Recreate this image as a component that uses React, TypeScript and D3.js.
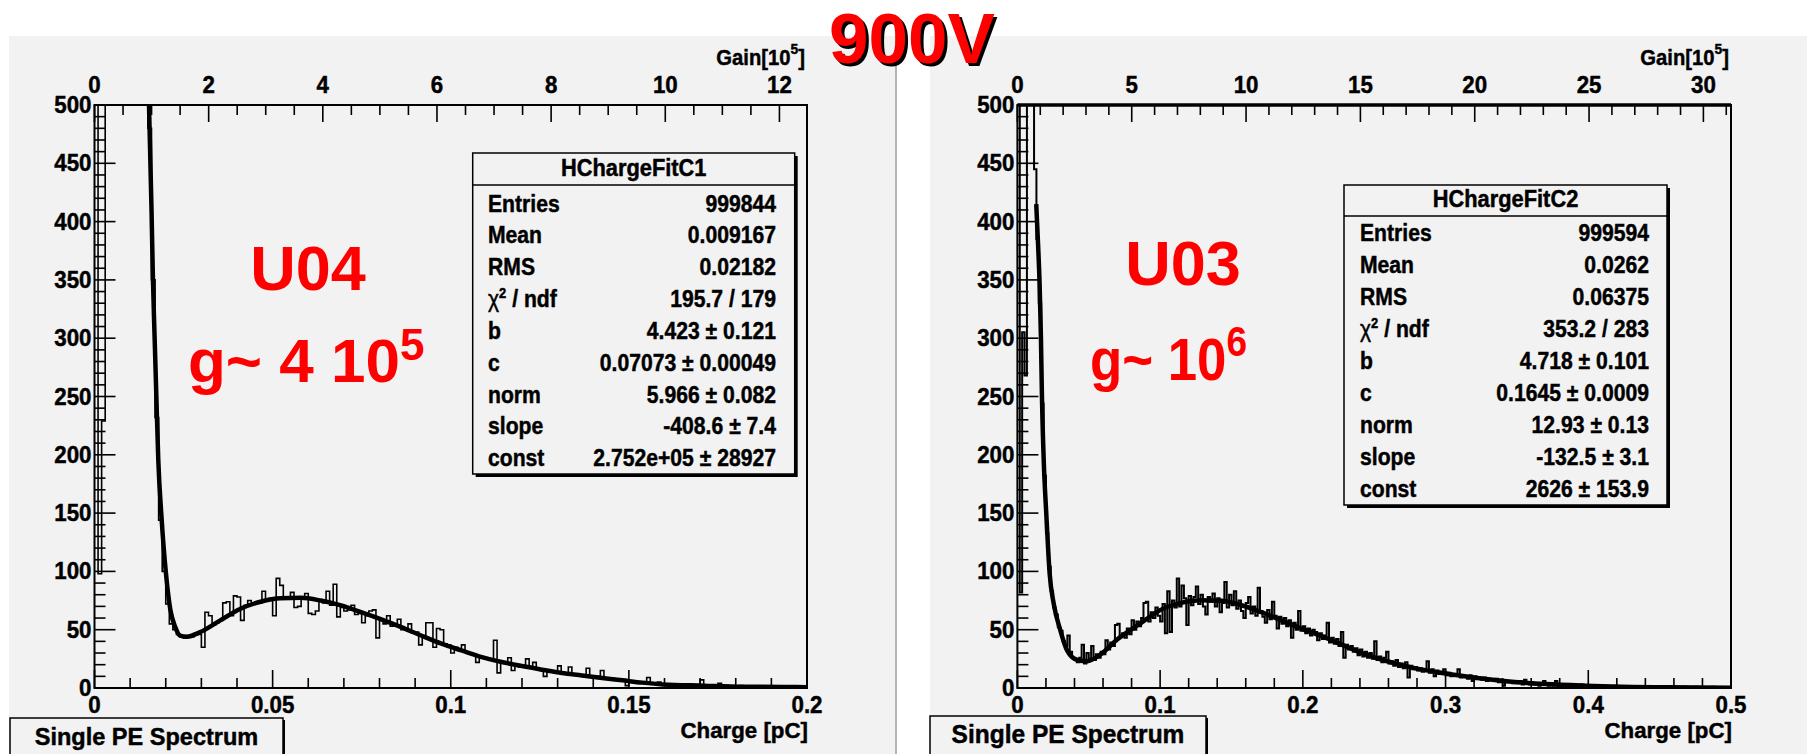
import * as d3 from 'd3';

const W = 1807;
const H = 754;
const FONT = "'Liberation Sans', Arial, Helvetica, sans-serif";
const BG = '#f2f2f2';

// gain axis is charge / e, in units of 1e5 (per pC)
const GAIN_PER_PC = 62.415;

const countTicks = [0, 50, 100, 150, 200, 250, 300, 350, 400, 450, 500];
const leftChargeTicks = [0, 0.05, 0.1, 0.15, 0.2];
const rightChargeTicks = [0, 0.1, 0.2, 0.3, 0.4, 0.5];
const leftGainTicks = [0, 2, 4, 6, 8, 10, 12];
const rightGainTicks = [0, 5, 10, 15, 20, 25, 30];

// U04: 200 bins of 0.001 pC
const leftCounts = [
  5200, 98, 229, 30000, 21000, 14500, 10000, 7000, 4900, 3400,
  2400, 1700, 1200, 880, 650, 480, 350, 232, 144, 100,
  72, 55, 50, 46, 44, 43, 45, 44, 47, 46,
  35, 65, 62, 54, 56, 58, 73, 74, 62, 79,
  78, 58, 71, 75, 72, 74, 73, 83, 76, 77,
  62, 94, 88, 78, 77, 82, 69, 70, 77, 81,
  64, 63, 66, 75, 73, 83, 71, 89, 61, 69,
  66, 67, 71, 63, 64, 56, 62, 66, 67, 43,
  58, 55, 62, 53, 54, 59, 50, 51, 55, 47,
  48, 37, 45, 56, 56, 35, 51, 50, 38, 37,
  30, 35, 33, 37, 31, 30, 29, 22, 27, 26,
  26, 24, 41, 13, 22, 21, 26, 15, 19, 18,
  19, 25, 17, 22, 16, 15, 10, 15, 14, 13,
  19, 12, 13, 18, 12, 11, 11, 10, 17, 10,
  9, 10, 15, 8, 8, 8, 7, 7, 7, 2,
  6, 6, 5, 5, 4, 9, 4, 4, 5, 3,
  3, 3, 2, 3, 2, 3, 2, 2, 2, 2,
  7, 2, 1, 2, 1, 4, 1, 2, 1, 1,
  1, 2, 1, 1, 1, 1, 0, 1, 1, 1,
  1, 0, 1, 1, 0, 0, 0, 0, 1, 1,
];

// U03: 300 bins of 0.5/300 pC
const rightCounts = [
  5200, 82, 305, 268, 1900, 1200, 760, 445, 385, 330,
  244, 182, 133, 104, 83, 69, 63, 52, 49, 40,
  36, 45, 31, 26, 25, 22, 26, 37, 21, 30,
  25, 36, 24, 29, 26, 31, 29, 41, 33, 39,
  36, 54, 55, 44, 47, 43, 51, 46, 58, 50,
  57, 53, 60, 73, 74, 57, 65, 60, 69, 62,
  57, 72, 47, 83, 48, 75, 69, 94, 70, 88,
  77, 54, 79, 71, 78, 87, 72, 80, 70, 63,
  78, 74, 81, 70, 77, 65, 73, 91, 69, 80,
  71, 83, 68, 75, 66, 60, 73, 78, 64, 70,
  62, 86, 66, 61, 56, 67, 59, 74, 62, 51,
  61, 55, 60, 53, 58, 43, 56, 50, 66, 49,
  53, 47, 51, 45, 50, 48, 41, 47, 42, 45,
  56, 39, 43, 38, 42, 36, 48, 26, 37, 33,
  36, 31, 34, 28, 33, 27, 31, 26, 30, 25,
  40, 24, 27, 22, 26, 31, 21, 23, 19, 24,
  18, 21, 17, 22, 9, 19, 16, 18, 15, 17,
  14, 16, 23, 13, 16, 10, 15, 12, 14, 16,
  11, 13, 10, 12, 11, 16, 9, 11, 10, 8,
  11, 6, 10, 8, 9, 7, 9, 6, 8, 7,
  6, 8, 5, 7, 2, 6, 5, 6, 4, 5,
  4, 6, 3, 7, 4, 3, 5, 3, 4, 2,
  4, 6, 3, 2, 3, 2, 6, 1, 3, 2,
  1, 3, 2, 1, 2, 2, 1, 3, 1, 2,
  1, 0, 2, 1, 1, 2, 0, 1, 1, 0,
  1, 2, 0, 1, 1, 0, 1, 0, 1, 1,
  0, 1, 0, 1, 0, 1, 0, 1, 0, 0,
  1, 0, 0, 1, 0, 0, 1, 0, 0, 0,
  1, 0, 0, 0, 0, 1, 0, 0, 0, 0,
  0, 0, 1, 0, 0, 0, 0, 0, 0, 0,
];

// fitted curves (charge in pC, counts)
const leftFitQ = [0.0149, 0.0153, 0.016, 0.0164, 0.0169, 0.0174, 0.0179, 0.0188, 0.0201, 0.0213, 0.0227, 0.024, 0.026, 0.0297, 0.0353, 0.041, 0.0466, 0.0522, 0.0579, 0.0635, 0.0692, 0.0748, 0.0805, 0.0861, 0.0917, 0.0974, 0.103, 0.1087, 0.1143, 0.12, 0.1256, 0.1312, 0.1369, 0.1425, 0.1482, 0.1538, 0.1595, 0.171, 0.182, 0.1934, 0.2];
const leftFitV = [540, 500, 411, 351, 298, 246, 196, 147, 97, 67, 52, 45, 44, 48, 58, 68, 74, 77, 77.3, 75, 70.8, 65, 58.8, 52.2, 45, 38, 32.2, 26.5, 22.3, 18.8, 15.7, 12.8, 10.8, 8.6, 6.6, 4.6, 3.1, 2, 1.1, 0.9, 0.7];
const rightFitQ = [0.0132, 0.0145, 0.0156, 0.0165, 0.0172, 0.0184, 0.0203, 0.0226, 0.0255, 0.0302, 0.0349, 0.042, 0.049, 0.0585, 0.0703, 0.082, 0.0915, 0.1, 0.1146, 0.1288, 0.143, 0.157, 0.171, 0.185, 0.199, 0.214, 0.228, 0.242, 0.256, 0.279, 0.299, 0.319, 0.341, 0.37, 0.398, 0.455, 0.5];
const rightFitV = [415, 380, 345, 300, 250, 197, 148, 98, 72, 49, 32, 24, 23, 29, 42, 52, 60, 66.8, 73, 75.3, 74.8, 71, 65, 58, 51, 44, 36.8, 29.7, 24, 16.8, 12.6, 9, 6, 3.4, 2, 0.6, 0.3];

const statNames = ['Entries', 'Mean', 'RMS', 'chi2', 'b', 'c', 'norm', 'slope', 'const'];
const leftStatValues = ['999844', '0.009167', '0.02182', '195.7 / 179', '4.423 ± 0.121', '0.07073 ± 0.00049', '5.966 ± 0.082', '-408.6 ± 7.4', '2.752e+05 ± 28927'];
const rightStatValues = ['999594', '0.0262', '0.06375', '353.2 / 283', '4.718 ± 0.101', '0.1645 ± 0.0009', '12.93 ± 0.13', '-132.5 ± 3.1', '2626 ± 153.9'];

// ROOT-ish heavy text: bold plus a hairline stroke
function Txt({ x, y, size, anchor = 'start', sx = 0.95, fill = '#000', weight = 700, heavy = 0.45, children }: any) {
  return (
    <text
      transform={`translate(${x},${y}) scale(${sx},1)`}
      fontSize={size}
      textAnchor={anchor}
      fontWeight={weight}
      fill={fill}
      stroke={heavy ? fill : 'none'}
      strokeWidth={heavy}
      fontFamily={FONT}
    >
      {children}
    </text>
  );
}

function Panel(p: any) {
  const { frame: f } = p;
  const x = d3.scaleLinear().domain([0, p.qMax]).range([f.l, f.r]);
  const g = d3.scaleLinear().domain([0, p.qMax * GAIN_PER_PC]).range([f.l, f.r]);
  const y = d3.scaleLinear().domain([0, 500]).range([f.b, f.t]);

  const histPts: [number, number][] = [];
  p.counts.forEach((v: number, i: number) => {
    const yv = y(Math.min(v, 520));
    histPts.push([x(i * p.binW), yv], [x((i + 1) * p.binW), yv]);
  });
  const histPath = d3.line()(histPts) || '';

  const fitPath = d3.line<number>()
    .x((_, i) => x(p.fitQ[i]))
    .y((v) => y(v))
    .curve(d3.curveMonotoneX)(p.fitV) || '';

  const yMinor = d3.range(0, 51).map((i) => i * 10);
  const qMinor = d3.range(0, p.qMinorN + 1).map((i) => (i * p.qMax) / p.qMinorN);
  const gMax = p.qMax * GAIN_PER_PC;
  const gMinor = d3.range(0, Math.floor(gMax / p.gMinorStep) + 1).map((i) => i * p.gMinorStep);

  const box = p.box;
  const clipId = `clip-${p.id}`;

  return (
    <g>
      <rect x={p.canvasX0} y={36} width={p.canvasX1 - p.canvasX0} height={H - 36} fill={BG} />
      <defs>
        <clipPath id={clipId}>
          <rect x={f.l} y={f.t} width={f.r - f.l} height={f.b - f.t} />
        </clipPath>
      </defs>

      {/* ticks */}
      <g stroke="#000" strokeWidth={1.6}>
        {yMinor.map((v) => (
          <line key={'y' + v} x1={f.l} x2={f.l + (v % 50 === 0 ? 21 : 11)} y1={y(v)} y2={y(v)} />
        ))}
        {qMinor.map((v, i) => (
          <line key={'q' + i} x1={x(v)} x2={x(v)} y1={f.b} y2={f.b - (i % 5 === 0 ? 18 : 10)} />
        ))}
        {gMinor.map((v, i) => (
          <line key={'g' + i} x1={g(v)} x2={g(v)} y1={f.t} y2={f.t + (i % p.gMajorEvery === 0 ? 17 : 10)} />
        ))}
      </g>

      <g clipPath={`url(#${clipId})`}>
        <path d={histPath} fill="none" stroke="#000" strokeWidth={p.histW} />
        <path d={fitPath} fill="none" stroke="#000" strokeWidth={4.5} strokeLinejoin="miter" />
      </g>

      <rect x={f.l} y={f.t} width={f.r - f.l} height={f.b - f.t} fill="none" stroke="#000" strokeWidth={2} />
      {p.thickTop && <line x1={f.l} x2={f.r} y1={f.t} y2={f.t} stroke="#000" strokeWidth={3.5} />}

      {/* axis labels */}
      {countTicks.map((v) => (
        <Txt key={'yl' + v} x={f.l - 3} y={y(v) + 8} size={24} anchor="end" sx={0.93}>{v}</Txt>
      ))}
      {p.qTicks.map((v: number) => (
        <Txt key={'ql' + v} x={x(v)} y={713} size={24} anchor="middle" sx={0.93}>{v}</Txt>
      ))}
      {p.gTicks.map((v: number) => (
        <Txt key={'gl' + v} x={g(v)} y={93} size={24} anchor="middle" sx={0.93}>{v}</Txt>
      ))}
      <Txt x={f.r + 1} y={738} size={23} anchor="end" sx={0.97}>Charge [pC]</Txt>
      <Txt x={f.r - 2} y={65} size={22} anchor="end" sx={0.92}>
        Gain[10<tspan dy={-11} fontSize={15}>5</tspan><tspan dy={11}>]</tspan>
      </Txt>

      {/* stats box */}
      <rect x={box.x + 3} y={box.y + 3} width={box.w} height={box.h} fill="#000" />
      <rect x={box.x} y={box.y} width={box.w} height={box.h} fill={BG} stroke="#000" strokeWidth={1.5} />
      <line x1={box.x} x2={box.x + box.w} y1={box.head} y2={box.head} stroke="#000" strokeWidth={1.5} />
      <Txt x={box.x + box.w / 2} y={box.head - 9} size={23} anchor="middle" sx={0.95}>{p.title}</Txt>
      {statNames.map((name, i) => {
        const yy = box.row0 + i * box.rowStep;
        return (
          <g key={name}>
            <Txt x={box.labelX} y={yy} size={23} sx={0.92}>
              {name === 'chi2' ? (
                <>
                  <tspan fontWeight={400}>χ</tspan>
                  <tspan dy={-9} fontSize={14}>2</tspan>
                  <tspan dy={9}> / ndf</tspan>
                </>
              ) : name}
            </Txt>
            <Txt x={box.valueX} y={yy} size={23} anchor="end" sx={0.92}>{p.statValues[i]}</Txt>
          </g>
        );
      })}

      {/* name tag */}
      <rect x={p.tag.x + 2} y={p.tag.y + 2} width={p.tag.w} height={60} fill="#000" />
      <rect x={p.tag.x} y={p.tag.y} width={p.tag.w} height={60} fill={BG} stroke="#000" strokeWidth={1.5} />
      <Txt x={p.tag.x + p.tag.w / 2} y={p.tag.y + 27} size={p.tag.size} anchor="middle" sx={0.98}>Single PE Spectrum</Txt>

      {/* red annotation */}
      <Txt x={p.red.cx} y={p.red.y1} size={63} anchor="middle" sx={1} heavy={0} fill="#ff0000">{p.red.name}</Txt>
      <Txt x={p.red.gx} y={p.red.y2} size={p.red.gSize} sx={p.red.gSx} heavy={0} fill="#ff0000">
        {p.red.g}
        <tspan dy={p.red.supDy} fontSize={p.red.supSize}>{p.red.sup}</tspan>
      </Txt>
    </g>
  );
}

export default function App() {
  return (
    <svg width={W} height={H} style={{ position: 'absolute', left: 0, top: 0, background: '#fff' }}>
      <rect x={0} y={0} width={W} height={H} fill="#fff" />
      <Panel
        id="l"
        canvasX0={9}
        canvasX1={896}
        frame={{ l: 94.5, r: 807, t: 105, b: 688 }}
        qMax={0.2}
        binW={0.001}
        counts={leftCounts}
        histW={1.6}
        fitQ={leftFitQ}
        fitV={leftFitV}
        qTicks={leftChargeTicks}
        qMinorN={20}
        gTicks={leftGainTicks}
        gMinorStep={0.5}
        gMajorEvery={4}
        title="HChargeFitC1"
        statValues={leftStatValues}
        box={{ x: 472.7, y: 153, w: 322, h: 321, head: 185, row0: 211.5, rowStep: 31.85, labelX: 488, valueX: 776 }}
        tag={{ x: 10, y: 718, w: 273, size: 24 }}
        red={{ name: 'U04', cx: 308, y1: 290, g: 'g~ 4 10', gx: 188, y2: 382, gSize: 62, gSx: 1, sup: '5', supSize: 44, supDy: -22 }}
      />
      <line x1={896} x2={896} y1={36} y2={H} stroke="#b4b4b4" strokeWidth={2} />
      <Panel
        id="r"
        canvasX0={930}
        canvasX1={W}
        frame={{ l: 1017.4, r: 1731, t: 105, b: 688 }}
        qMax={0.5}
        binW={0.5 / 300}
        counts={rightCounts}
        histW={2}
        fitQ={rightFitQ}
        fitV={rightFitV}
        qTicks={rightChargeTicks}
        qMinorN={25}
        gTicks={rightGainTicks}
        gMinorStep={1}
        gMajorEvery={5}
        thickTop
        title="HChargeFitC2"
        statValues={rightStatValues}
        box={{ x: 1344, y: 185, w: 323, h: 320, head: 216, row0: 241, rowStep: 32, labelX: 1360, valueX: 1649 }}
        tag={{ x: 930, y: 716, w: 276, size: 25 }}
        red={{ name: 'U03', cx: 1183, y1: 285, g: 'g~ 10', gx: 1090, y2: 380, gSize: 60, gSx: 0.88, sup: '6', supSize: 42, supDy: -24 }}
      />

      {/* page title */}
      <text x={915} y={66} fontSize={71} fontWeight={700} textAnchor="middle" fill="#000" fontFamily={FONT}>900V</text>
      <text x={912} y={63} fontSize={71} fontWeight={700} textAnchor="middle" fill="#ff0000" fontFamily={FONT}>900V</text>
    </svg>
  );
}
